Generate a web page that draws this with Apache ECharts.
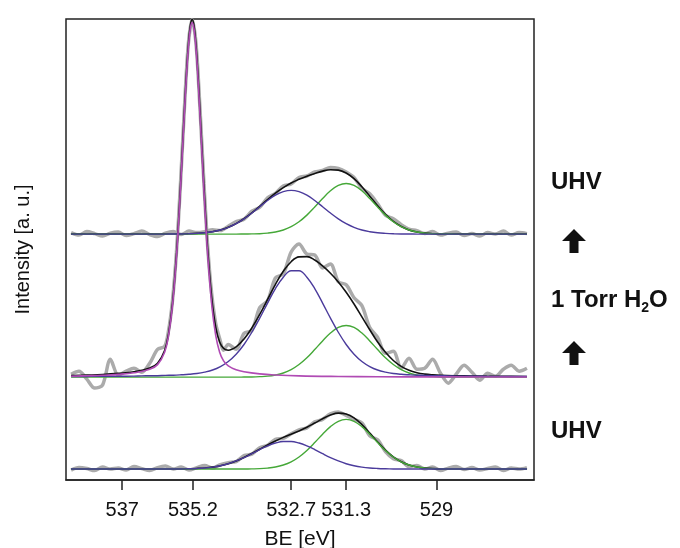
<!DOCTYPE html>
<html>
<head>
<meta charset="utf-8">
<script src="https://cdn.jsdelivr.net/npm/echarts/dist/echarts.min.js"></script>
<style>
  html, body { margin: 0; padding: 0; background: #fff; }
  #chart { width: 680px; height: 548px; }
</style>
</head>
<body>
<div id="chart"></div>
<script>
// binding energy grid (eV), high to low
var be = [538.3, 538.1, 537.9, 537.7, 537.5, 537.3, 537.1, 536.9, 536.7, 536.5,
  536.3, 536.1, 535.9, 535.7, 535.5, 535.3, 535.1, 534.9, 534.7, 534.5,
  534.3, 534.1, 533.9, 533.7, 533.5, 533.3, 533.1, 532.9, 532.7, 532.5,
  532.3, 532.1, 531.9, 531.7, 531.5, 531.3, 531.1, 530.9, 530.7, 530.5,
  530.3, 530.1, 529.9, 529.7, 529.5, 529.3, 529.1, 528.9, 528.7, 528.5,
  528.3, 528.1, 527.9, 527.7, 527.5, 527.3, 527.1, 526.9, 526.7];

var tickVals = [537, 535.2, 532.7, 531.3, 529];
var tickLabels = ['537', '535.2', '532.7', '531.3', '529'];

// vertical offsets of the stacked spectra (bottom UHV, 1 Torr H2O, top UHV)
var offsets = { bottom: 11, middle: 103.5, top: 247.5 };

// ---- top: UHV (after) ----
var topData = [1.5, -1.0, 2.5, 0.5, -2.0, 1.0, 2.0, -1.5, 0.5, 3.0,
  -0.5, -2.5, 1.0, 2.5, -0.5, 3.0, 1.5, 2.5, 4.5, 3.5,
  8.0, 12.5, 15.0, 23.0, 27.0, 36.5, 41.0, 48.5, 50.5, 57.0,
  58.5, 62.5, 64.0, 67.0, 66.0, 62.5, 57.0, 46.0, 40.5, 30.5,
  19.0, 15.5, 9.5, 5.0, 3.5, 0.5, 2.5, -1.0, 1.0, 2.0,
  -1.5, 0.5, -2.0, 1.5, 0.0, 3.0, -1.0, 1.5, 0.5];
var topFit = [0, 0, 0, 0, 0, 0, 0, 0, 0, 0, 0, 0, 0,
  0.1, 0.1, 0.3, 0.7, 1.3, 2.4, 4.1, 6.8, 10.5, 15.5, 21.4, 28.0, 34.8, 41.3, 46.8, 51.5,
  55.1, 58.3, 61.0, 63.4, 64.8, 64.4, 61.5, 55.8, 47.7, 38.2, 28.5, 19.8, 12.7, 7.6, 4.2,
  2.1, 1.0, 0.4, 0.2, 0.1, 0, 0, 0, 0, 0, 0, 0, 0, 0, 0];
var topPurple = [0, 0, 0, 0, 0, 0, 0, 0, 0, 0, 0, 0, 0,
  0.1, 0.1, 0.3, 0.7, 1.3, 2.4, 4.1, 6.8, 10.5, 15.4, 21.2, 27.6, 33.8, 39.2, 42.7, 44,
  42.7, 39.2, 33.8, 27.6, 21.2, 15.4, 10.5, 6.8, 4.1, 2.4, 1.3, 0.7, 0.3, 0.1, 0.1,
  0, 0, 0, 0, 0, 0, 0, 0, 0, 0, 0, 0, 0, 0, 0];
var topGreen = [0, 0, 0, 0, 0, 0, 0, 0, 0, 0, 0, 0, 0, 0, 0, 0, 0, 0, 0, 0, 0, 0,
  0.1, 0.2, 0.4, 1.0, 2.1, 4.1, 7.5, 12.4, 19.1, 27.2, 35.8, 43.6, 49.0, 51,
  49.0, 43.6, 35.8, 27.2, 19.1, 12.4, 7.5, 4.1, 2.1, 1.0, 0.4, 0.2, 0.1,
  0, 0, 0, 0, 0, 0, 0, 0, 0, 0];

// ---- middle: 1 Torr H2O ([BE, intensity] where the gas peak needs finer steps) ----
var midData = [[538.3, 3], [538.1, 6], [537.9, -2], [537.7, -11], [537.5, -8], [537.3, 18],
  [537.1, 2], [536.9, 6], [536.7, 9], [536.5, 5], [536.3, 14], [536.1, 28], [535.92, 31],
  [535.82, 47], [535.72, 77], [535.62, 125], [535.52, 192], [535.42, 268], [535.32, 334],
  [535.22, 360], [535.12, 335], [535.02, 270], [534.92, 195], [534.82, 129], [534.72, 83],
  [534.62, 54], [534.52, 39], [534.42, 27], [534.3, 33], [534.1, 28], [533.9, 44], [533.7, 47],
  [533.5, 70], [533.3, 77], [533.1, 100], [532.9, 104], [532.7, 126], [532.5, 134], [532.3, 124],
  [532.1, 123], [531.9, 110], [531.7, 114], [531.5, 96], [531.3, 93], [531.1, 80], [530.9, 72],
  [530.7, 50], [530.5, 40], [530.3, 24], [530.1, 26], [529.9, 9], [529.7, 19], [529.5, 8],
  [529.3, 9], [529.1, 18], [528.9, 4], [528.7, -6], [528.5, 3], [528.3, 12], [528.1, 5],
  [527.9, -3], [527.7, 4], [527.5, 1], [527.3, 8], [527.1, 12], [526.9, 6], [526.7, 9]];
var midFit = [[538.3, 1.6], [537.9, 2.1], [537.5, 2.7], [537.1, 3.8], [536.7, 5.5], [536.3, 9.3],
  [536.1, 14.1], [535.92, 26.9], [535.82, 43.9], [535.72, 74.3], [535.62, 122.8], [535.57, 154.1],
  [535.52, 189.7], [535.47, 227.5], [535.42, 266.2], [535.37, 302.2], [535.32, 332.5],
  [535.27, 352.8], [535.22, 360.1], [535.17, 353.1], [535.12, 333.3], [535.07, 303.4],
  [535.02, 267.9], [534.97, 229.8], [534.92, 192.4], [534.87, 157.3], [534.82, 126.5],
  [534.72, 79.3], [534.62, 50.4], [534.52, 35.3], [534.42, 28.9], [534.3, 27.1], [534.1, 30.5],
  [533.9, 38.4], [533.7, 49.6], [533.5, 63.2], [533.3, 78.2], [533.1, 93.5], [532.9, 106.6],
  [532.7, 116.2], [532.5, 121.1], [532.3, 121.3], [532.1, 117.9], [531.9, 112.0], [531.7, 104.6],
  [531.5, 95.9], [531.3, 85.5], [531.1, 73.7], [530.9, 60.7], [530.7, 47.7], [530.5, 35.4],
  [530.3, 25.0], [530.1, 16.8], [529.9, 10.8], [529.7, 6.9], [529.5, 4.5], [529.3, 3.1],
  [529.1, 2.3], [528.9, 1.8], [528.5, 1.4], [528.1, 1.2], [527.7, 1.0], [527.3, 0.9], [526.7, 0.7]];
var midPurple = [0.6, 0.7, 0.7, 0.8, 0.8, 0.9, 1.0, 1.0, 1.1, 1.3,
  1.4, 1.5, 1.8, 2.0, 2.4, 2.9, 3.7, 5.1, 7.2, 10.7,
  15.8, 23.1, 32.9, 45.2, 59.4, 74.6, 89.1, 100.6, 107.1,
  107.1, 100.6, 89.1, 74.6, 59.4, 45.2, 32.9, 23.1, 15.8, 10.7,
  7.2, 5.1, 3.7, 2.9, 2.4, 2.0, 1.8, 1.5, 1.4, 1.3,
  1.1, 1.0, 1.0, 0.9, 0.8, 0.8, 0.7, 0.7, 0.6, 0.6];
var midGreen = [0, 0, 0, 0, 0, 0, 0, 0, 0, 0, 0, 0, 0, 0, 0, 0, 0, 0, 0, 0, 0, 0,
  0.1, 0.2, 0.5, 1.0, 2.2, 4.2, 7.6, 12.7, 19.5, 27.8, 36.5, 44.4, 50.0, 52,
  50.0, 44.4, 36.5, 27.8, 19.5, 12.7, 7.6, 4.2, 2.2, 1.0, 0.5, 0.2, 0.1,
  0, 0, 0, 0, 0, 0, 0, 0, 0, 0];
var midGas = [[538.3, 1.0], [537.9, 1.4], [537.5, 1.9], [537.1, 2.8], [536.7, 4.4], [536.3, 7.9],
  [536.1, 12.6], [535.92, 25.1], [535.82, 42.0], [535.72, 72.3], [535.62, 120.7], [535.57, 151.9],
  [535.52, 187.4], [535.47, 225.2], [535.42, 263.7], [535.37, 299.6], [535.32, 329.7],
  [535.27, 349.9], [535.22, 357], [535.17, 349.9], [535.12, 329.7], [535.07, 299.6],
  [535.02, 263.7], [534.97, 225.2], [534.92, 187.4], [534.87, 151.9], [534.82, 120.7],
  [534.72, 72.3], [534.62, 42.0], [534.52, 25.1], [534.42, 16.4], [534.3, 11.3], [534.1, 7.4],
  [533.9, 5.4], [533.5, 3.3], [533.1, 2.2], [532.5, 1.3], [531.5, 0.7], [530.5, 0.4],
  [529.1, 0.3], [527.9, 0.2], [526.7, 0.1]];

// ---- bottom: UHV (before) ----
var botData = [-1.0, 1.5, 0.5, -1.5, 2.0, 0.0, 1.0, -1.0, 2.5, 0.5,
  -1.5, 1.5, 3.0, 0.0, 2.0, -1.0, 1.5, 3.5, 1.0, 4.5,
  6.5, 7.5, 13.5, 15.0, 21.5, 24.0, 30.0, 31.0, 35.5, 39.5,
  41.5, 47.5, 50.0, 55.5, 57.5, 54.0, 50.0, 46.5, 33.5, 29.5,
  17.5, 10.5, 8.5, 2.5, 3.5, 0.0, 2.0, -1.5, 1.0, 2.5,
  -0.5, 1.5, -1.0, 0.5, 2.0, -1.5, 1.0, 0.0, 1.5];
var botFit = [0, 0, 0, 0, 0, 0, 0, 0, 0, 0, 0, 0, 0, 0,
  0.1, 0.3, 0.6, 1.1, 2.0, 3.4, 5.4, 8.2, 11.7, 15.7, 20.0, 24.3, 28.3, 31.9, 35.1,
  38.4, 42.1, 46.3, 50.6, 54.3, 56.3, 55.4, 51.5, 44.7, 36.2, 27.3, 19.1, 12.3, 7.3, 4.1,
  2.1, 1.0, 0.4, 0.2, 0.1, 0, 0, 0, 0, 0, 0, 0, 0, 0, 0];
var botPurple = [0, 0, 0, 0, 0, 0, 0, 0, 0, 0, 0, 0, 0, 0,
  0.1, 0.3, 0.6, 1.1, 2.0, 3.4, 5.4, 8.2, 11.6, 15.5, 19.6, 23.3, 26.2, 27.8, 27.8,
  26.2, 23.3, 19.6, 15.5, 11.6, 8.2, 5.4, 3.4, 2.0, 1.1, 0.6, 0.3, 0.1,
  0, 0, 0, 0, 0, 0, 0, 0, 0, 0, 0, 0, 0, 0, 0, 0, 0];
var botGreen = [0, 0, 0, 0, 0, 0, 0, 0, 0, 0, 0, 0, 0, 0, 0, 0, 0, 0, 0, 0, 0, 0,
  0.1, 0.2, 0.4, 1.0, 2.1, 4.1, 7.3, 12.2, 18.8, 26.7, 35.1, 42.7, 48.1, 50,
  48.1, 42.7, 35.1, 26.7, 18.8, 12.2, 7.3, 4.1, 2.1, 1.0, 0.4, 0.2, 0.1,
  0, 0, 0, 0, 0, 0, 0, 0, 0, 0];

var FONT = '"Liberation Sans", Arial, sans-serif';
var GRAY = '#ababab', BLACK = '#111111', GREEN = '#45a838', PURPLE = '#4b3b9c', MAGENTA = '#b04bb4';

function onGrid(vals, off) {
  return be.map(function (x, i) { return [x, vals[i] + off]; });
}
function onPairs(pairs, off) {
  return pairs.map(function (p) { return [p[0], p[1] + off]; });
}
function line(data, color, width, z, smooth) {
  return {
    type: 'line', data: data, symbol: 'none', showSymbol: false,
    smooth: smooth, z: z,
    lineStyle: { color: color, width: width }
  };
}

var series = [
  // measured spectra
  line(onGrid(topData, offsets.top), GRAY, 3.5, 1, 0.3),
  line(onPairs(midData, offsets.middle), GRAY, 3.5, 1, 0.3),
  line(onGrid(botData, offsets.bottom), GRAY, 3.5, 1, 0.3),
  // fit envelopes
  line(onGrid(topFit, offsets.top), BLACK, 1.6, 2, 0.4),
  line(onPairs(midFit, offsets.middle), BLACK, 1.6, 2, 0.4),
  line(onGrid(botFit, offsets.bottom), BLACK, 1.6, 2, 0.4),
  // components
  line(onGrid(topGreen, offsets.top), GREEN, 1.4, 3, 0.4),
  line(onGrid(midGreen, offsets.middle), GREEN, 1.4, 3, 0.4),
  line(onGrid(botGreen, offsets.bottom), GREEN, 1.4, 3, 0.4),
  line(onGrid(topPurple, offsets.top), PURPLE, 1.4, 4, 0.4),
  line(onGrid(midPurple, offsets.middle), PURPLE, 1.4, 4, 0.4),
  line(onGrid(botPurple, offsets.bottom), PURPLE, 1.4, 4, 0.4),
  line(onPairs(midGas, offsets.middle), MAGENTA, 1.6, 5, 0.4)
];

function upArrow(yTop) {
  return {
    type: 'polygon',
    shape: { points: [[574, yTop], [562, yTop + 12], [569.5, yTop + 12], [569.5, yTop + 24],
      [578.5, yTop + 24], [578.5, yTop + 12], [586, yTop + 12]] },
    style: { fill: '#111' }
  };
}
var labelFont = 'bold 24px ' + FONT;

var myChart = echarts.init(document.getElementById('chart'));
var option = {
  animation: false,
  backgroundColor: '#ffffff',
  grid: {
    left: 66, right: 146, top: 19, bottom: 68,
    outerBoundsMode: 'none', containLabel: false,
    show: true, borderColor: '#222', borderWidth: 1.5
  },
  xAxis: {
    type: 'value', inverse: true, min: 526.52, max: 538.43,
    axisLine: { show: true, lineStyle: { color: '#222', width: 1.5 } },
    axisTick: { show: true, inside: false, length: 10, customValues: tickVals,
      lineStyle: { color: '#222', width: 1.5 } },
    axisLabel: {
      customValues: tickVals, margin: 20, fontSize: 20, color: '#111', fontFamily: FONT,
      formatter: function (v) {
        var i = tickVals.findIndex(function (t) { return Math.abs(t - v) < 1e-6; });
        return i >= 0 ? tickLabels[i] : '';
      }
    },
    splitLine: { show: false },
    name: 'BE [eV]', nameLocation: 'middle', nameGap: 49,
    nameTextStyle: { fontSize: 21, color: '#111', fontFamily: FONT }
  },
  yAxis: {
    type: 'value', min: 0, max: 464,
    axisLine: { show: false }, axisTick: { show: false }, axisLabel: { show: false },
    splitLine: { show: false },
    name: 'Intensity [a. u.]', nameLocation: 'middle', nameGap: 33,
    nameTextStyle: { fontSize: 20, color: '#111', fontFamily: FONT }
  },
  graphic: [
    { type: 'text', x: 551, y: 182, style: { text: 'UHV', font: labelFont, fill: '#111', verticalAlign: 'middle' } },
    upArrow(229),
    { type: 'text', x: 551, y: 300, style: {
      text: '{a|1 Torr H}{s|2}{a|O}', fill: '#111', verticalAlign: 'middle',
      rich: {
        a: { font: labelFont, lineHeight: 30, fill: '#111' },
        s: { font: 'bold 14px ' + FONT, lineHeight: 14, verticalAlign: 'bottom', fill: '#111' }
      }
    } },
    upArrow(341),
    { type: 'text', x: 551, y: 431, style: { text: 'UHV', font: labelFont, fill: '#111', verticalAlign: 'middle' } }
  ],
  series: series
};
myChart.setOption(option);
</script>
</body>
</html>
